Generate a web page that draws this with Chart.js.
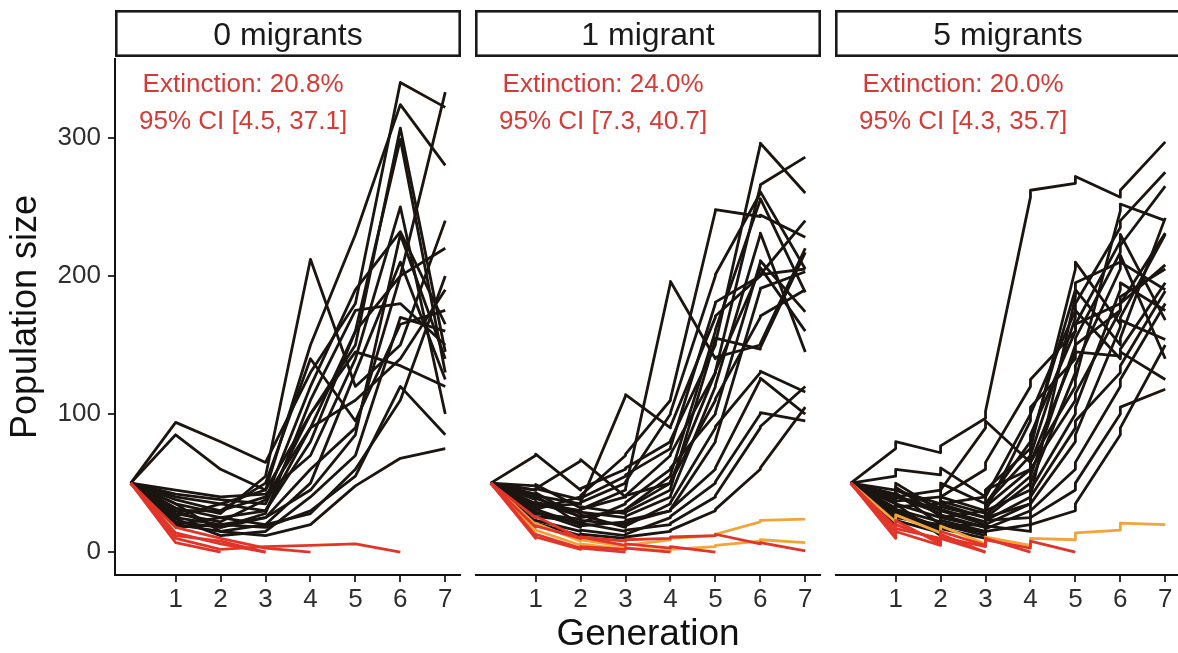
<!DOCTYPE html>
<html>
<head>
<meta charset="utf-8">
<script src="https://cdn.jsdelivr.net/npm/chart.js@4.4.1/dist/chart.umd.min.js"></script>
<style>
  html, body { margin: 0; padding: 0; background: #fff; width: 1178px; height: 653px; overflow: hidden; }
  #wrap { position: relative; width: 1178px; height: 653px; overflow: hidden; }
  #wrap canvas { position: absolute; top: 0; }
</style>
</head>
<body>
<div id="wrap">
  <canvas id="panel0" width="461" height="653" style="left:0px"></canvas>
  <canvas id="panel1" width="346" height="653" style="left:475px"></canvas>
  <canvas id="panel2" width="346" height="653" style="left:835px"></canvas>
</div>
<script>
// ---- data -------------------------------------------------------------
const generations = [0, 1, 2, 3, 4, 5, 6, 7];
const xTickValues = [1, 2, 3, 4, 5, 6, 7];
const yTickValues = [0, 100, 200, 300];

const panelTitles = ['0 migrants', '1 migrant', '5 migrants'];
const migrantsPerGeneration = [0, 1, 5];
const extinctionLabels = ['Extinction: 20.8%', 'Extinction: 24.0%', 'Extinction: 20.0%'];
const intervalLabels = ['95% CI [4.5, 37.1]', '95% CI [7.3, 40.7]', '95% CI [4.3, 35.7]'];

// census counts per generation for each replicate population

// 0 migrants
const zeroPersisted = [
  [50, 94, 80, 65, 130, 180, 340, 322],
  [50, 85, 60, 45, 150, 230, 324, 280],
  [50, 40, 35, 45, 100, 150, 307, 145],
  [50, 30, 30, 40, 90, 160, 299, 130],
  [50, 25, 20, 25, 60, 90, 200, 333],
  [50, 35, 28, 55, 212, 120, 150, 240],
  [50, 28, 22, 38, 120, 190, 232, 165],
  [50, 32, 25, 30, 80, 160, 200, 220],
  [50, 22, 18, 28, 110, 175, 180, 150],
  [50, 45, 40, 42, 70, 140, 250, 100],
  [50, 20, 15, 20, 50, 130, 210, 125],
  [50, 38, 30, 50, 140, 95, 165, 175],
  [50, 26, 35, 30, 90, 110, 140, 190],
  [50, 30, 18, 25, 45, 85, 230, 140],
  [50, 24, 12, 15, 40, 70, 170, 160],
  [50, 18, 20, 18, 30, 55, 120, 85],
  [50, 35, 15, 12, 20, 48, 68, 75],
  [50, 20, 25, 20, 28, 60, 110, 200],
  [50, 42, 38, 35, 100, 145, 135, 120]
];
const zeroRecolonised = [];
const zeroExtinct = [
  [50, 7, 0],
  [50, 12, 8, 0],
  [50, 18, 10, 3, 0],
  [50, 10, 2, 4, 5, 6, 0],
  [50, 14, 6, 0]
];

// 1 migrant
const onePersisted = [
  [50, 70, 45, 60, 80, 150, 295, 260],
  [50, 45, 66, 40, 50, 130, 265, 286],
  [50, 40, 35, 113, 90, 170, 200, 205],
  [50, 35, 30, 45, 195, 140, 150, 220],
  [50, 30, 40, 70, 110, 247, 243, 228],
  [50, 42, 25, 30, 55, 160, 255, 188],
  [50, 38, 28, 25, 40, 120, 230, 145],
  [50, 30, 20, 35, 60, 100, 210, 174],
  [50, 25, 22, 20, 30, 80, 190, 203],
  [50, 48, 32, 28, 45, 154, 147, 217],
  [50, 35, 26, 18, 35, 90, 130, 116],
  [50, 28, 18, 22, 30, 60, 125, 100],
  [50, 22, 15, 12, 25, 50, 100, 95],
  [50, 33, 30, 40, 70, 130, 205, 160],
  [50, 27, 24, 30, 50, 110, 170, 190],
  [50, 40, 20, 15, 20, 40, 90, 120],
  [50, 20, 12, 10, 15, 30, 60, 105],
  [50, 32, 35, 50, 100, 200, 260, 205],
  [50, 45, 38, 55, 75, 180, 200, 240]
];
const oneRecolonised = [
  [50, 20, 8, 4, 9, 12, 22, 24],
  [50, 15, 5, 2, 1, 4, 8, 7]
];
const oneExtinct = [
  [50, 18, 10, 8, 10, 12, 6, 1],
  [50, 12, 3, 2, 0],
  [50, 25, 10, 5, 3, 0],
  [50, 10, 2, 0]
];

// 5 migrants
const fivePersisted = [
  [50, 75, 72, 97, 257, 267, 257, 297],
  [50, 55, 56, 40, 60, 120, 247, 240],
  [50, 40, 35, 30, 70, 205, 165, 230],
  [50, 35, 28, 25, 95, 175, 235, 275],
  [50, 30, 25, 20, 50, 150, 217, 265],
  [50, 28, 35, 60, 120, 160, 180, 205],
  [50, 45, 30, 25, 45, 130, 205, 190],
  [50, 38, 20, 18, 40, 100, 190, 175],
  [50, 25, 18, 15, 35, 185, 150, 242],
  [50, 32, 40, 90, 65, 170, 140, 125],
  [50, 22, 15, 12, 30, 80, 163, 154],
  [50, 42, 26, 22, 55, 110, 175, 231],
  [50, 26, 22, 18, 25, 60, 120, 180],
  [50, 30, 12, 10, 20, 45, 100, 118],
  [50, 20, 20, 30, 80, 160, 225, 168],
  [50, 35, 45, 35, 100, 140, 142, 195],
  [50, 24, 16, 14, 15, 30, 85, 150],
  [50, 36, 30, 40, 75, 190, 210, 140],
  [50, 40, 32, 28, 60, 145, 175, 208],
  [50, 18, 14, 20, 35, 90, 130, 189]
];
const fiveRecolonised = [
  [50, 22, 14, 6, 5, 9, 16, 20]
];
const fiveExtinct = [
  [50, 15, 8, 0],
  [50, 12, 10, 5, 0],
  [50, 18, 6, 4, 3, 0],
  [50, 10, 5, 0]
];

const persistedByPanel = [zeroPersisted, onePersisted, fivePersisted];
const recolonisedByPanel = [zeroRecolonised, oneRecolonised, fiveRecolonised];
const extinctByPanel = [zeroExtinct, oneExtinct, fiveExtinct];

// ---- drawing ----------------------------------------------------------
const FONT = "'Liberation Sans', Arial, Helvetica, sans-serif";
Chart.defaults.font.family = FONT;

const COLORS = { persisted: '#1b1511', recolonised: '#f1a43a', extinct: '#e2352a' };

// each census is followed by the arrival of migrants in the same generation
function toPoints(values, migrants) {
  const pts = [];
  values.forEach((v, g) => {
    pts.push({ x: generations[g], y: v });
    if (migrants > 0 && g > 0 && g < values.length - 1) {
      pts.push({ x: generations[g], y: v + migrants });
    }
  });
  return pts;
}

function lineSet(lines, migrants, color, order) {
  return lines.map(values => ({
    data: toPoints(values, migrants),
    borderColor: color,
    borderWidth: 2.8,
    borderJoinStyle: 'round',
    pointRadius: 0,
    pointHoverRadius: 0,
    tension: 0,
    fill: false,
    order: order
  }));
}

const facetDecor = {
  id: 'facetDecor',
  afterDraw(chart, args, opts) {
    const { ctx, chartArea, scales } = chart;
    const w = chartArea.right - chartArea.left;
    ctx.save();
    // strip header
    ctx.fillStyle = '#ffffff';
    ctx.fillRect(chartArea.left, 10, w, 47);
    ctx.lineWidth = 2.6;
    ctx.strokeStyle = '#1a1a1a';
    ctx.strokeRect(chartArea.left + 1.3, 11.3, w - 2.6, 44.4);
    ctx.fillStyle = '#1a1a1a';
    ctx.font = '32px ' + FONT;
    ctx.textAlign = 'center';
    ctx.textBaseline = 'alphabetic';
    ctx.fillText(opts.title, chartArea.left + w / 2, 45);
    // extinction summary
    ctx.fillStyle = '#d63a36';
    ctx.font = '26px ' + FONT;
    const x = scales.x.getPixelForValue(2.5);
    ctx.fillText(opts.line1, x, scales.y.getPixelForValue(333));
    ctx.fillText(opts.line2, x, scales.y.getPixelForValue(306));
    ctx.restore();
  }
};

function buildPanel(i) {
  const m = migrantsPerGeneration[i];
  const datasets = [
    ...lineSet(extinctByPanel[i], m, COLORS.extinct, 0),
    ...lineSet(recolonisedByPanel[i], m, COLORS.recolonised, 1),
    ...lineSet(persistedByPanel[i], m, COLORS.persisted, 2)
  ];
  const showY = i === 0;
  const showXTitle = i === 1;
  new Chart(document.getElementById('panel' + i), {
    type: 'line',
    data: { datasets },
    plugins: [facetDecor],
    options: {
      responsive: false,
      animation: false,
      devicePixelRatio: 1,
      layout: { padding: { top: 59, left: 0, right: 0, bottom: 0 } },
      plugins: {
        legend: { display: false },
        tooltip: { enabled: false },
        facetDecor: { title: panelTitles[i], line1: extinctionLabels[i], line2: intervalLabels[i] }
      },
      scales: {
        x: {
          type: 'linear',
          min: -0.35,
          max: 7.35,
          afterBuildTicks: s => { s.ticks = xTickValues.map(v => ({ value: v })); },
          afterFit: s => { s.height = 78; },
          grid: { display: true, drawOnChartArea: false, drawTicks: true, tickLength: 7, color: '#333', lineWidth: 2 },
          border: { display: true, color: '#111', width: 2 },
          ticks: { color: '#2e2e2e', font: { size: 26 }, padding: 2, autoSkip: false, maxRotation: 0 },
          title: {
            display: showXTitle,
            text: 'Generation',
            color: '#111',
            font: { size: 37, lineHeight: 1 },
            padding: { top: 0, bottom: 0 }
          }
        },
        y: {
          type: 'linear',
          display: showY,
          min: -16.5,
          max: 357,
          afterBuildTicks: s => { s.ticks = yTickValues.map(v => ({ value: v })); },
          afterFit: s => { s.width = showY ? 115 : 0; },
          grid: { display: true, drawOnChartArea: false, drawTicks: true, tickLength: 7, color: '#333', lineWidth: 2 },
          border: { display: true, color: '#111', width: 2 },
          ticks: { color: '#2e2e2e', font: { size: 26 }, padding: 7 },
          title: {
            display: true,
            text: 'Population size',
            color: '#111',
            font: { size: 36, lineHeight: 1 },
            padding: { top: 8, bottom: 0 }
          }
        }
      }
    }
  });
}

[0, 1, 2].forEach(buildPanel);
</script>
</body>
</html>
